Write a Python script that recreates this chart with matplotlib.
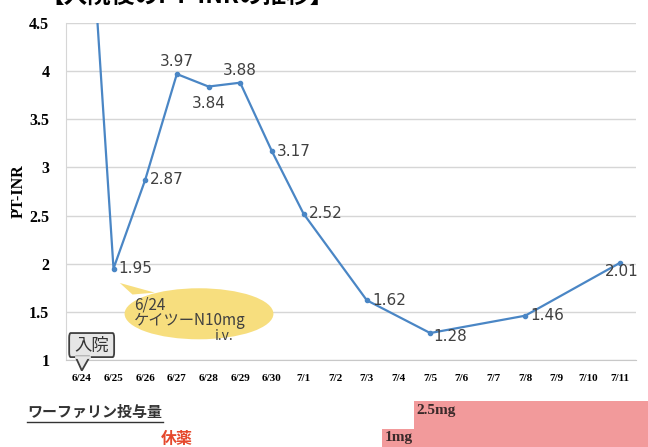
import matplotlib.pyplot as plt
import matplotlib.patches as patches
import numpy as np

plt.rcParams['font.family'] = ['Noto Sans CJK JP', 'DejaVu Sans']

# data
days = ["6/24", "6/25", "6/26", "6/27", "6/28", "6/29", "6/30", "7/1", "7/2",
        "7/3", "7/4", "7/5", "7/6", "7/7", "7/8", "7/9", "7/10", "7/11"]
inr_days = ["6/24", "6/25", "6/26", "6/27", "6/28", "6/29", "6/30", "7/1",
            "7/3", "7/5", "7/8", "7/11"]
inr_values = [7.0, 1.95, 2.87, 3.97, 3.84, 3.88, 3.17, 2.52, 1.62, 1.28, 1.46, 2.01]
# warfarin dose per day (mg), 0 = 休薬
dose = [0, 0, 0, 0, 0, 0, 0, 0, 0, 0, 1, 2.5, 2.5, 2.5, 2.5, 2.5, 2.5, 2.5]

# label placement per point: (dx px, dy px, ha, va)
label_pos = {
    "6/25": (5, 0, "left", "center"),
    "6/26": (5, 0, "left", "center"),
    "6/27": (0, 5, "center", "bottom"),
    "6/28": (0, -9, "center", "top"),
    "6/29": (0, 5, "center", "bottom"),
    "6/30": (5, 0, "left", "center"),
    "7/1": (5, 0, "left", "center"),
    "7/3": (5, 0, "left", "center"),
    "7/5": (3, -3, "left", "center"),
    "7/8": (5, 0, "left", "center"),
    "7/11": (2, -9, "center", "center"),
}

W, H = 648, 447
fig = plt.figure(figsize=(W / 100, H / 100), dpi=100)

serif = "Liberation Serif"
x_idx = np.array([days.index(d) for d in inr_days])

# main chart
ax = fig.add_axes([66 / W, 1 - 360 / H, 570 / W, 337 / H])
ax.plot(x_idx, inr_values, color="#4A86C5", lw=1.6, marker="o", ms=3,
        zorder=3, clip_on=True)
ax.set_xlim(-0.5, len(days) - 0.5)
ax.set_ylim(1, 4.5)
ax.set_yticks(np.arange(1, 4.51, 0.5))
ax.set_yticklabels(["1", "1.5", "2", "2.5", "3", "3.5", "4", "4.5"],
                   fontfamily=serif, fontweight="bold", fontsize=11.5)
ax.set_xticks(range(len(days)))
ax.set_xticklabels(days, fontfamily=serif, fontweight="bold", fontsize=8)
ax.tick_params(axis="both", length=0)
ax.tick_params(axis="y", pad=12)
ax.tick_params(axis="x", pad=10)
ax.grid(axis="y", color="#d6d6d6", lw=1)
ax.set_axisbelow(True)
for s in ["right", "top"]:
    ax.spines[s].set_visible(False)
ax.spines["left"].set_color("#d6d6d6")
ax.spines["bottom"].set_color("#c8c8c8")
ax.set_ylabel("PT-INR", fontfamily=serif, fontweight="bold", fontsize=11.5,
              labelpad=2)

for d, v in zip(inr_days, inr_values):
    if d not in label_pos:
        continue
    dx, dy, ha, va = label_pos[d]
    ax.annotate(f"{v:.2f}", (days.index(d), v), xytext=(dx * 0.72, dy * 0.72),
                textcoords="offset points", ha=ha, va=va, fontsize=11,
                color="#404040", family="DejaVu Sans")

# callout bubble (ケイツー)
ell = patches.Ellipse((3.7, 1.48), 4.7, 0.53, facecolor="#F7DE7E",
                      edgecolor="none", zorder=4, clip_on=False)
ax.add_patch(ell)
tail = patches.Polygon([(1.2, 1.8), (1.6, 1.68), (2.3, 1.7)], closed=True,
                       facecolor="#F7DE7E", edgecolor="none", zorder=4)
ax.add_patch(tail)
ax.text(1.65, 1.49, "6/24\nケイツーN10mg", fontsize=11, color="#404040",
        va="center", ha="left", zorder=5, linespacing=0.95)
ax.text(4.2, 1.25, "i.v.", fontsize=10, color="#404040", va="center",
        ha="left", zorder=5)

# 入院 box
box = patches.FancyBboxPatch((-0.4, 1.03), 1.42, 0.25,
                             boxstyle="round,pad=0,rounding_size=0.05",
                             facecolor="#e6e6e6", edgecolor="#404040",
                             lw=1.3, zorder=5, clip_on=False)
ax.add_patch(box)
ptr = patches.Polygon([(-0.2, 1.035), (0.0, 0.89), (0.25, 1.035)], closed=True,
                      facecolor="#e6e6e6", edgecolor="#404040", lw=1.3,
                      zorder=6, clip_on=False)
ax.add_patch(ptr)
ax.add_line(plt.Line2D([-0.18, 0.23], [1.035, 1.035], color="#e6e6e6",
                       lw=2, zorder=7, clip_on=False))
ax.text(0.31, 1.15, "入院", fontsize=12.5, color="#333333", ha="center",
        va="center", zorder=7)

# warfarin dose strip
axd = fig.add_axes([66 / W, 0, 570 / W, 46 / H])
bar_x = np.arange(len(days))
axd.bar(bar_x, dose, width=1.02, color="#F29A9B", edgecolor="none")
axd.bar(len(days) - 0.5, dose[-1], width=1, align="edge", color="#F29A9B",
        edgecolor="none", clip_on=False)
axd.set_xlim(-0.5, len(days) - 0.5)
axd.set_ylim(0, 2.5)
axd.axis("off")
first_1 = dose.index(1)
first_25 = dose.index(2.5)
axd.text(first_25 - 0.42, 2.0, "2.5mg", fontfamily=serif, fontweight="bold",
         fontsize=11, color="#3a2a2a", va="center", ha="left")
axd.text(first_1 - 0.42, 0.5, "1mg", fontfamily=serif, fontweight="bold",
         fontsize=11, color="#3a2a2a", va="center", ha="left")
axd.text(3.0, 0.45, "休薬", fontsize=11.5, fontweight="bold", color="#E5492D",
         ha="center", va="center")

# labels above the dose strip
fig.text(27 / W, 1 - 412 / H, "ワーファリン投与量", fontsize=10.8, color="#333333",
         ha="left", va="center", fontweight="bold")
fig.add_artist(plt.Line2D([27 / W, 163 / W], [1 - 422 / H, 1 - 422 / H],
                          color="#333333", lw=1))

# title, cut off at the top of the picture (as in the source image)
fig.text(40 / W, 1 + 4 / H, "【入院後のPT-INRの推移】", fontsize=17,
         fontweight="bold", color="black", ha="left", va="center")

fig.savefig("out.png", dpi=100)
